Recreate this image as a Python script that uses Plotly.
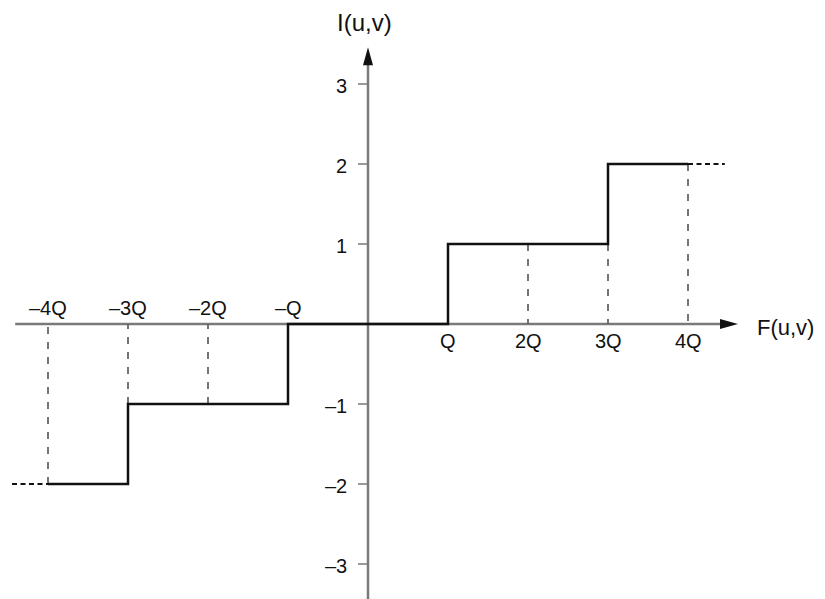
import plotly.graph_objects as go

# Data (x in units of Q)
q_ticks = [-4, -3, -2, -1, 1, 2, 3, 4]
q_labels = ["–4Q", "–3Q", "–2Q", "–Q", "Q", "2Q", "3Q", "4Q"]
y_ticks = [-3, -2, -1, 1, 2, 3]
y_labels = ["–3", "–2", "–1", "1", "2", "3"]

# staircase: decision levels and output levels
step_x = [-4, -3, -3, -1, -1, 1, 1, 3, 3, 4]
step_y = [-2, -2, -1, -1, 0, 0, 1, 1, 2, 2]

# dashed guide lines (x position, level)
guide_x = [-4, -3, -2, 2, 3, 4]
guide_top = [-2, -1, -1, 1, 1, 2]

# dotted continuation
dot_right_x = [4, 4.46]
dot_right_y = [2, 2]
dot_left_x = [-4.45, -4]
dot_left_y = [-2, -2]

AX = "#7a7a7a"
FONT = "Liberation Sans, Arial, Helvetica, sans-serif"

fig = go.Figure()

# axes lines
fig.add_trace(go.Scatter(x=[-4.41, 4.45], y=[0, 0], mode="lines",
                         line=dict(color=AX, width=2.5), hoverinfo="skip"))
fig.add_trace(go.Scatter(x=[0, 0], y=[-3.6, 3.3], mode="lines",
                         line=dict(color=AX, width=2.5), hoverinfo="skip"))

# y tick marks
for t in y_ticks:
    fig.add_trace(go.Scatter(x=[-0.125, 0], y=[t, t], mode="lines",
                             line=dict(color=AX, width=1.5), hoverinfo="skip"))

# dashed guides
for gx, gt in zip(guide_x, guide_top):
    fig.add_trace(go.Scatter(x=[gx, gx], y=[gt, 0], mode="lines",
                             line=dict(color="#666", width=1.8, dash="7px,8px"),
                             hoverinfo="skip"))

# dotted continuation
fig.add_trace(go.Scatter(x=dot_right_x, y=dot_right_y, mode="lines",
                         line=dict(color="#111", width=2.2, dash="5px,3.5px"), hoverinfo="skip"))
fig.add_trace(go.Scatter(x=dot_left_x, y=dot_left_y, mode="lines",
                         line=dict(color="#111", width=2.2, dash="5px,3.5px"), hoverinfo="skip"))

# staircase
fig.add_trace(go.Scatter(x=step_x, y=step_y, mode="lines",
                         line=dict(color="#111", width=2.5), hoverinfo="skip"))

# arrowheads (paths in data coords)
ux = 1 / 80.0
fig.add_shape(type="path",
              path=f"M {4.625} 0 L {4.625 - 18*ux} {5*ux} L {4.625 - 18*ux} {-5*ux} Z",
              fillcolor="#111", line=dict(color="#111", width=0))
fig.add_shape(type="path",
              path=f"M 0 {3.46} L {5*ux} {3.46 - 18*ux} L {-5*ux} {3.46 - 18*ux} Z",
              fillcolor="#111", line=dict(color="#111", width=0))

# tick labels
for t, lab in zip(q_ticks, q_labels):
    fig.add_annotation(x=t, y=0.2 if t < 0 else -0.21, text=lab, showarrow=False,
                       xanchor="center", yanchor="middle",
                       font=dict(family=FONT, size=20, color="#111"))
for t, lab in zip(y_ticks, y_labels):
    fig.add_annotation(x=-0.24, y=t - 0.03, text=lab, showarrow=False,
                       xanchor="right", yanchor="middle",
                       font=dict(family=FONT, size=20, color="#111"))

# axis titles
fig.add_annotation(x=-0.04, y=3.77, text="I(u,v)", showarrow=False,
                   xanchor="center", yanchor="middle",
                   font=dict(family=FONT, size=24, color="#111"))
fig.add_annotation(x=4.85, y=-0.04, text="F(u,v)", showarrow=False,
                   xanchor="left", yanchor="middle", borderpad=0,
                   font=dict(family=FONT, size=22, color="#111"))

# page has an 8px body margin: shift ranges so the drawing lands where the reference has it
fig.update_layout(
    width=825, height=599,
    margin=dict(l=0, r=0, t=0, b=0),
    paper_bgcolor="white", plot_bgcolor="white",
    showlegend=False,
    xaxis=dict(range=[-4.5, 5.8125], visible=False, fixedrange=True),
    yaxis=dict(range=[-3.5375, 3.95], visible=False, fixedrange=True),
)

fig.write_html("out.html")
